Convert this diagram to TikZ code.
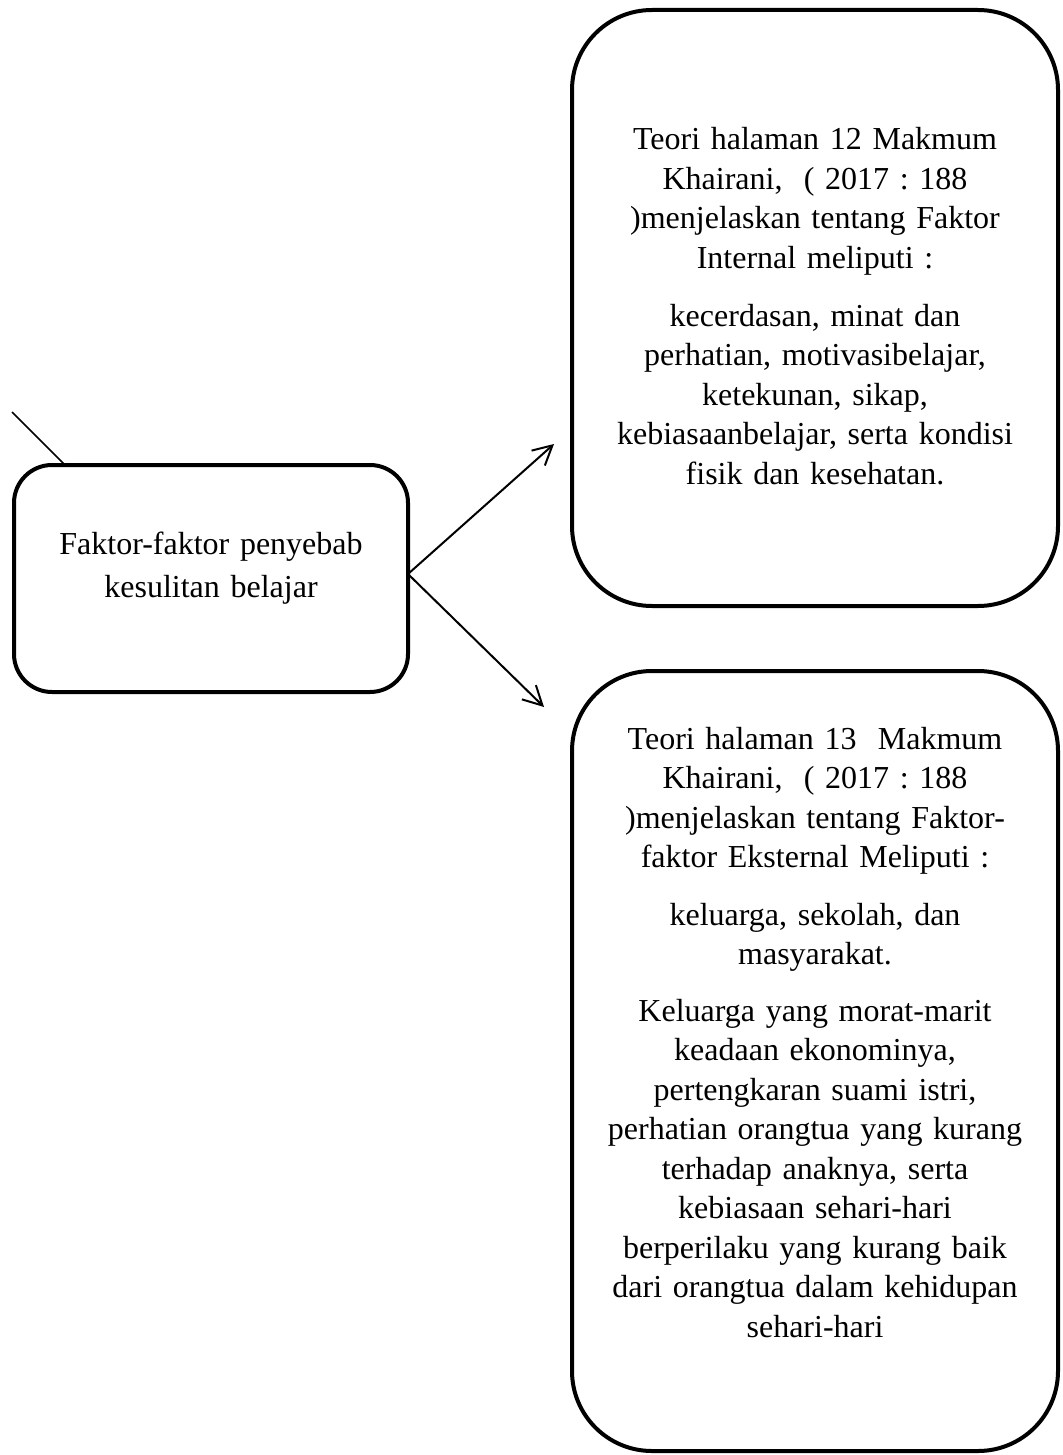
\documentclass[tikz,border=0pt]{standalone}
\usepackage{fontspec}
\setmainfont{Liberation Serif}
\usetikzlibrary{arrows.meta}
\tikzset{
  roundbox/.style={draw=black, line width=2pt, rectangle, inner sep=0pt},
  bodytext/.style={align=center, text width=240pt, inner sep=0pt, anchor=base, font=\fontsize{16pt}{19.75pt}\selectfont\frenchspacing},
  conn/.style={line width=1pt, -{Straight Barb[length=9.5pt,width=10pt,line width=1pt]}},
  thinline/.style={line width=0.75pt}
}
\begin{document}
\begin{tikzpicture}[x=0.5pt,y=-0.5pt]
\useasboundingbox (0,0) rectangle (1062,1455);
% boxes
\draw[roundbox, rounded corners=19pt] (14,465) rectangle (408,692);
\node[minimum width=197pt, minimum height=113.5pt, inner sep=0pt] (cause) at (211,578.5) {};
\draw[roundbox, rounded corners=40pt] (572,10) rectangle (1058,606);
\node[minimum width=243pt, minimum height=298pt, inner sep=0pt] (internal) at (815,308) {};
\draw[roundbox, rounded corners=40pt] (572,671) rectangle (1058,1451);
\node[minimum width=243pt, minimum height=390pt, inner sep=0pt] (external) at (815,1061) {};
% texts
\node[bodytext, text width=190pt, font=\fontsize{16pt}{21.5pt}\selectfont\frenchspacing] (causetext) at (211,554) {Faktor-faktor penyebab\\kesulitan belajar};
\node[bodytext] (int1) at (815,150) {Teori halaman 12 Makmum\\Khairani,\ \ ( 2017 : 188\\)menjelaskan tentang Faktor\\Internal meliputi :};
\node[bodytext] (int2) at (815,326) {kecerdasan, minat dan\\perhatian, motivasibelajar,\\ketekunan, sikap,\\kebiasaanbelajar, serta kondisi\\fisik dan kesehatan.};
\node[bodytext] (ext1) at (815,749) {Teori halaman 13\ \ Makmum\\Khairani,\ \ ( 2017 : 188\\)menjelaskan tentang Faktor-\\faktor Eksternal Meliputi :};
\node[bodytext] (ext2) at (815,925) {keluarga, sekolah, dan\\masyarakat.};
\node[bodytext] (ext3) at (815,1021) {Keluarga yang morat-marit\\keadaan ekonominya,\\pertengkaran suami istri,\\perhatian orangtua yang kurang\\terhadap anaknya, serta\\kebiasaan sehari-hari\\berperilaku yang kurang baik\\dari orangtua dalam kehidupan\\sehari-hari};
% connectors
\coordinate (src) at (408,574);
\coordinate (tipA) at (554,444);
\coordinate (tipB) at (544,707);
\coordinate (lstart) at (12,412);
\coordinate (lend) at (65,465);
\draw[conn] (src) -- (tipA);
\draw[conn] (src) -- (tipB);
\draw[thinline] (lstart) -- (lend);
\end{tikzpicture}
\end{document}
